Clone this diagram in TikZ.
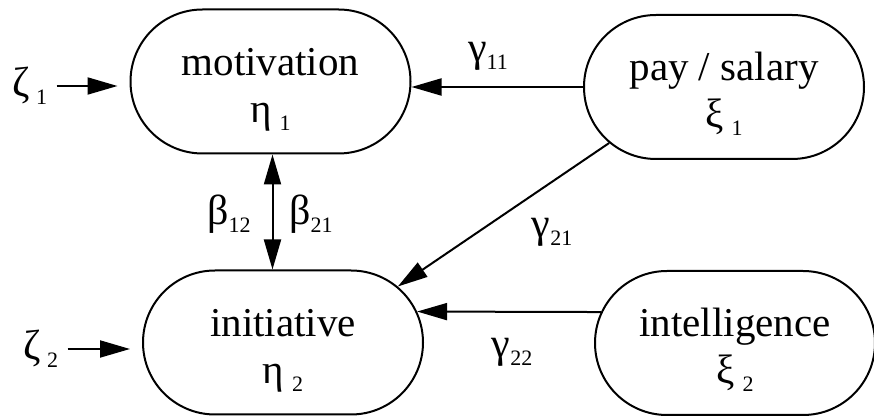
\documentclass[tikz,border=0pt]{standalone}
\usepackage{fontspec}
\setmainfont{Liberation Serif}
\usetikzlibrary{shapes.misc, arrows.meta}

\newcommand{\padtop}{\rule{0pt}{21.4pt}}
\newcommand{\low}[1]{\raisebox{-4pt}{\fontsize{11}{11}\selectfont #1}}

\tikzset{
  latent/.style={draw, rounded rectangle, line width=1pt,
                 minimum width=140pt, minimum height=72pt, inner sep=0pt,
                 align=center, font=\fontsize{20.5}{23.5}\selectfont},
  coef/.style={inner sep=0.5pt, font=\fontsize{21}{24}\selectfont},
  link/.style={line width=1pt, -{Triangle[length=15pt, width=8.5pt]}},
  twolink/.style={line width=1pt, {Triangle[length=15pt, width=8.5pt]}-{Triangle[length=15pt, width=8.5pt]}}
}

\begin{document}
\begin{tikzpicture}[x=0.5pt, y=-0.5pt]
  \useasboundingbox (0,0) rectangle (874,416);

  % latent and exogenous variables
  \node[latent] (mot)   at (270.5,81.5) {\padtop motivation\\η\kern4pt\low{1}};
  \node[latent] (pay)   at (724,87)     {\padtop pay / salary\\ξ\kern4pt\low{1}};
  \node[latent] (init)  at (283,342.5)  {\padtop initiative\\η\kern4pt\low{2}};
  \node[latent] (intel) at (735,343)    {\padtop intelligence\\ξ\kern4pt\low{2}};

  % disturbances
  \node[coef] (zeta1) at (30,86)  {ζ\kern3pt\low{1}};
  \node[coef] (zeta2) at (41,349) {ζ\kern3pt\low{2}};

  % path coefficients
  \node[coef] (g11) at (488,56)  {γ\low{11}};
  \node[coef] (g21) at (552,232) {γ\low{21}};
  \node[coef] (g22) at (512,352) {γ\low{22}};
  \node[coef] (b12) at (229,214) {β\low{12}};
  \node[coef] (b21) at (311,214) {β\low{21}};

  \draw[link, shorten <=4pt, shorten >=6pt] (zeta1.east) -- (zeta1.east -| mot.west);
  \draw[link, shorten <=4pt, shorten >=6pt] (zeta2.east) -- (zeta2.east -| init.west);
  \draw[link] (pay.west) -- (pay.west -| mot.east);
  \draw[link] (pay.206) -- (init.26);
  \draw[link] (intel.167) -- (init.13);
  \draw[twolink] ([xshift=1pt]mot.south) -- ([xshift=1pt]mot.south |- init.north);
\end{tikzpicture}
\end{document}
